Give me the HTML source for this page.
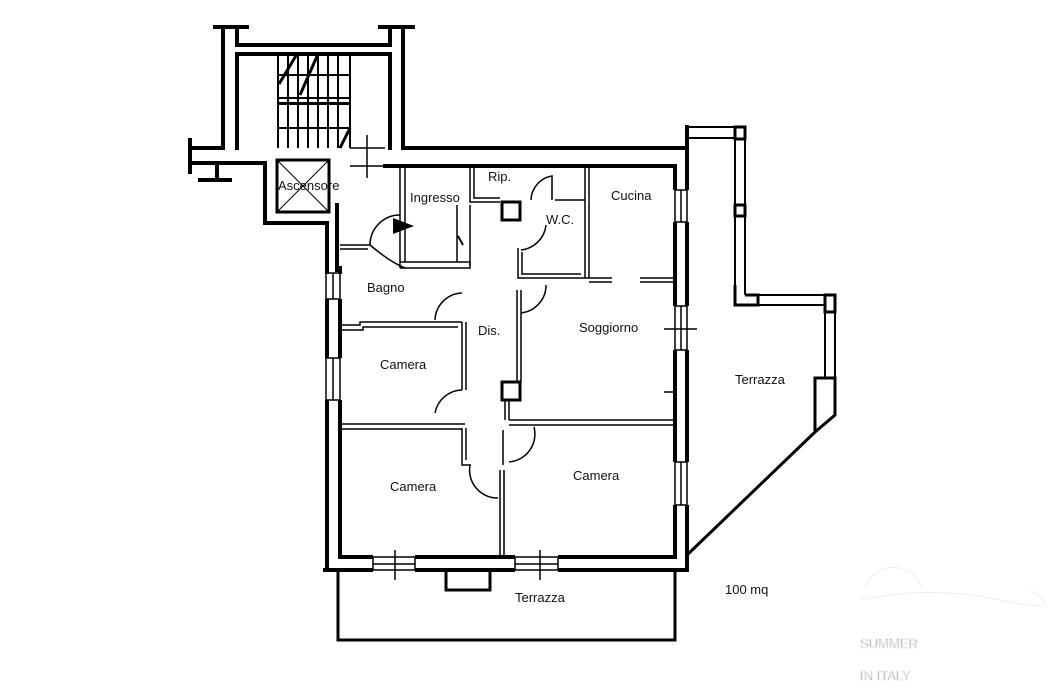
<!DOCTYPE html>
<html><head><meta charset="utf-8"><style>
html,body{margin:0;padding:0;background:#fff;}
svg{display:block}
text{font-family:"Liberation Sans",sans-serif;font-size:13px;fill:#111}
</style></head><body>
<svg width="1049" height="700" viewBox="0 0 1049 700" xmlns="http://www.w3.org/2000/svg">
<g fill="none" stroke="#000" stroke-width="4" stroke-linecap="square">
<path d="M215 27H247M380 27H413"/>
<path d="M223 27V148H190M190 140V172"/>
<path d="M237 27V45H390V27"/>
<path d="M403 27V148H687"/>
<path d="M237 54H390V148"/>
<path d="M237 54V148"/>
<path d="M190 163H265V223H327V570"/>
<path d="M217 163V180M200 180H230"/>
<path d="M340 268V557H675V166H385"/>
<path d="M325 570H687V127"/>
<path d="M337 205V270"/>
</g>
<!-- window gaps -->
<g fill="#fff" stroke="none">
<rect x="321" y="274" width="23" height="25"/>
<rect x="321" y="358" width="23" height="42"/>
<rect x="373" y="553" width="42" height="21"/>
<rect x="515" y="553" width="43" height="21"/>
<rect x="671" y="190" width="20" height="32"/>
<rect x="671" y="306" width="20" height="44"/>
<rect x="671" y="462" width="20" height="43"/>
</g>
<g fill="none" stroke="#000" stroke-width="1.5">
<path d="M326 274V299M333 274V299M340 274V299M326 358V400M333 358V400M340 358V400"/>
<path d="M326 273H340M326 299H340M326 358H340M326 400H340"/>
<path d="M373 557H415M373 564H415M373 570H415M515 557H558M515 564H558M515 570H558"/>
<path d="M373 557V570M415 557V570M515 557V570M558 557V570"/>
<path d="M675 190V222M681 190V222M687 190V222M675 306V350M681 306V350M687 306V350M675 462V505M681 462V505M687 462V505"/>
<path d="M675 190H687M675 222H687M675 306H687M675 350H687M675 462H687M675 505H687"/>
</g>
<g fill="none" stroke="#000" stroke-width="2">
<path d="M278 54V148M288 54V148M298 54V148M308 54V148M318 54V148M328 54V148M338 54V148M350 54V148"/>
<path d="M278 75H350M278 104H350M278 128H350"/>
<rect x="278" y="98" width="72" height="5" stroke-width="2"/>
<path d="M279 84L297 54M300 95L318 54M340 148L350 128" stroke-width="3"/>
<path d="M350 148H385M350 166H385M367 135V178" stroke-width="1.5"/>
<rect x="277" y="160" width="52" height="52" stroke-width="3"/>
<path d="M277 160L329 212M329 160L277 212" stroke-width="1"/>
<path d="M395 550V580M540 550V580" stroke-width="1.5"/>
<path d="M664 329H697" stroke-width="1.5"/>
<path d="M400 166V268M405 166V262" stroke-width="1.5"/>
<path d="M340 245H370M340 249H368" stroke-width="1.5"/>
<path d="M400 262H470V268H400" stroke-width="1.5"/>
<path d="M457 205V262M470 205V265" stroke-width="1.5"/>
<path d="M470 166V202H500M474 166V198H500" stroke-width="1.5"/>
<rect x="502" y="202" width="18" height="18" stroke-width="3"/>
<path d="M518 248V278H585M522 252V274H581" stroke-width="1.5"/>
<path d="M555 200H585M585 166V278M589 166V278" stroke-width="1.5"/>
<path d="M585 278H612M640 278H675M589 282H612M640 282H675" stroke-width="1.5"/>
<path d="M517 290V382M521 290V382" stroke-width="1.5"/>
<rect x="502" y="382" width="18" height="18" stroke-width="3"/>
<path d="M505 400V420M509 400V420" stroke-width="1.5"/>
<path d="M509 420H675M509 425H675" stroke-width="1.5"/>
<path d="M664 392H675V420" stroke-width="1.5"/>
<path d="M340 325H360V322H462M340 330H363V327H458" stroke-width="1.5"/>
<path d="M462 322V390M466 322V390M462 428V465H471M466 428V460" stroke-width="1.5"/>
<path d="M340 424H465M340 429H462" stroke-width="1.5"/>
<path d="M500 470V557M504 470V557M503 430V465" stroke-width="1.5"/>
<path d="M370 245A30 30 0 0 1 400 215M370 245Q390 262 405 268" stroke-width="1.5"/>
<path d="M435 320A28 28 0 0 1 462 293" stroke-width="1.5"/>
<path d="M435 413A28 28 0 0 1 462 390" stroke-width="1.5"/>
<path d="M470 465A28 28 0 0 0 498 498" stroke-width="1.5"/>
<path d="M509 462A28 28 0 0 0 534 427" stroke-width="1.5"/>
<path d="M521 313A28 28 0 0 0 546 285" stroke-width="1.5"/>
<path d="M521 250A28 28 0 0 0 546 225" stroke-width="1.5"/>
<path d="M531 200A25 25 0 0 1 552 176V200" stroke-width="1.5"/>
<path d="M458 236L463 245" stroke-width="2"/>
<path d="M338 570V640H675V570" stroke-width="3"/>
<rect x="446" y="570" width="44" height="20" stroke-width="3"/>
<path d="M687 127H745M687 138H735" stroke-width="2"/>
<rect x="735" y="127" width="10" height="12" stroke-width="3"/>
<path d="M735 139V290M745 139V295" stroke-width="2"/>
<rect x="735" y="205" width="10" height="11" stroke-width="3"/>
<path d="M735 285V305H758V295H745" stroke-width="3"/>
<path d="M758 295H825M758 305H825" stroke-width="2"/>
<rect x="825" y="295" width="10" height="17" stroke-width="3"/>
<path d="M825 312V378M835 312V378" stroke-width="2"/>
<path d="M815 378H835V415L815 432Z" stroke-width="3"/>
<path d="M815 432L687 555" stroke-width="3"/>
</g>
<path d="M393 218L393 234L414 226Z" fill="#000"/>
<g>
<text x="278" y="190">Ascensore</text>
<text x="410" y="202">Ingresso</text>
<text x="488" y="181">Rip.</text>
<text x="546" y="224">W.C.</text>
<text x="611" y="200">Cucina</text>
<text x="367" y="292">Bagno</text>
<text x="478" y="335">Dis.</text>
<text x="579" y="332">Soggiorno</text>
<text x="380" y="369">Camera</text>
<text x="390" y="491">Camera</text>
<text x="573" y="480">Camera</text>
<text x="735" y="384">Terrazza</text>
<text x="515" y="602">Terrazza</text>
<text x="725" y="594" font-size="17">100 mq</text>
</g>
<g fill="none" stroke="#eee" stroke-width="1">
<path d="M865 588A30 30 0 0 1 922 588M860 600Q930 585 1000 600T1030 590"/>
</g>
<text x="860" y="648" font-family="Liberation Serif" font-size="30" fill="none" stroke="#e8e8e8" stroke-width="1">SUMMER</text>
<text x="860" y="680" font-family="Liberation Serif" font-size="30" fill="none" stroke="#e8e8e8" stroke-width="1">IN ITALY</text>
</svg>
</body></html>
